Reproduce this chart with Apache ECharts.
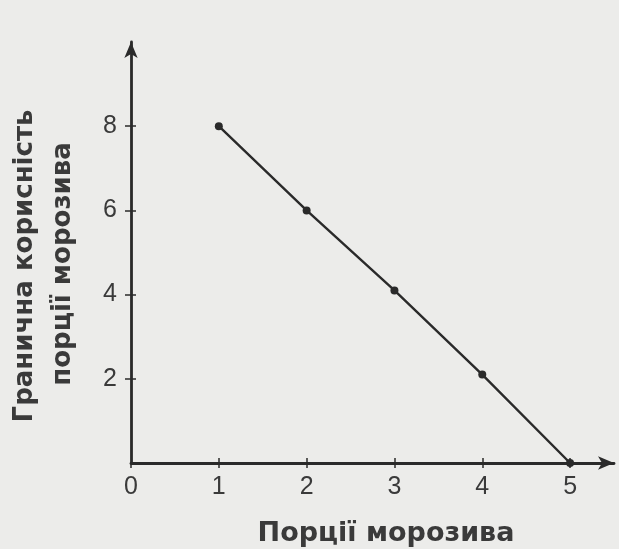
<!DOCTYPE html>
<html><head><meta charset="utf-8">
<script src="https://cdn.jsdelivr.net/npm/echarts@6/dist/echarts.min.js"></script>
<style>html,body{margin:0;padding:0;background:#ececea;}#c{width:619px;height:549px;}</style>
</head><body><div id="c"></div>
<script>
const portions = [1, 2, 3, 4, 5];
const utility = [8, 6, 4.1, 2.1, 0];
const xTicks = [0, 1, 2, 3, 4, 5];
const yTicks = [2, 4, 6, 8];
const xTitle = 'Порції морозива';
const yTitleLine1 = 'Гранична корисність';
const yTitleLine2 = 'порції морозива';

const ink = '#2a2a2a';
const textInk = '#3a3a3a';
const yTitleFont = 'bold 26px "DejaVu Sans"';
const xTitleFont = 'bold 27px "DejaVu Sans"';
const chart = echarts.init(document.getElementById('c'));
const baseX = { type: 'value', min: 0, max: 5.5, interval: 0.5, splitLine: { show: false } };
const baseY = { type: 'value', min: 0, max: 10, interval: 2, splitLine: { show: false } };
chart.setOption({
  backgroundColor: '#ececea',
  animation: false,
  grid: { left: 131, right: 5, top: 42, bottom: 86 },
  xAxis: [
    Object.assign({}, baseX, {
      axisLine: { lineStyle: { color: ink, width: 2.8 }, symbol: ['none', 'arrow'], symbolSize: [10, 16] },
      axisTick: { show: true, length: 5, lineStyle: { color: ink, width: 1.5 }, customValues: xTicks },
      axisLabel: { customValues: xTicks, color: textInk, fontSize: 25, fontFamily: 'Liberation Sans', margin: 12 }
    }),
    Object.assign({}, baseX, {
      position: 'bottom',
      axisLine: { show: false },
      axisTick: { show: true, inside: true, length: 5, lineStyle: { color: ink, width: 1.5 }, customValues: xTicks.slice(1) },
      axisLabel: { show: false }
    })
  ],
  yAxis: [
    Object.assign({}, baseY, {
      axisLine: { show: true, lineStyle: { color: ink, width: 2.8 }, symbol: ['none', 'arrow'], symbolSize: [10, 16] },
      axisTick: { show: true, length: 6, lineStyle: { color: ink, width: 1.5 }, customValues: yTicks },
      axisLabel: { customValues: yTicks, color: textInk, fontSize: 25, fontFamily: 'Liberation Sans', margin: 14 }
    }),
    Object.assign({}, baseY, {
      position: 'left',
      axisLine: { show: false },
      axisTick: { show: true, inside: true, length: 5, lineStyle: { color: ink, width: 1.5 }, customValues: yTicks },
      axisLabel: { show: false }
    })
  ],
  graphic: [
    { type: 'text', x: 25, y: 266, rotation: Math.PI / 2,
      style: { text: yTitleLine1, fill: textInk, font: yTitleFont, align: 'center', verticalAlign: 'middle' } },
    { type: 'text', x: 63, y: 264, rotation: Math.PI / 2,
      style: { text: yTitleLine2, fill: textInk, font: yTitleFont, align: 'center', verticalAlign: 'middle' } },
    { type: 'text', x: 386, y: 534,
      style: { text: xTitle, fill: textInk, font: xTitleFont, align: 'center', verticalAlign: 'middle' } }
  ],
  series: [{
    type: 'line',
    data: portions.map((p, i) => [p, utility[i]]),
    symbol: 'circle', symbolSize: 8,
    lineStyle: { color: ink, width: 2.4 },
    itemStyle: { color: ink }
  }]
});
</script></body></html>
